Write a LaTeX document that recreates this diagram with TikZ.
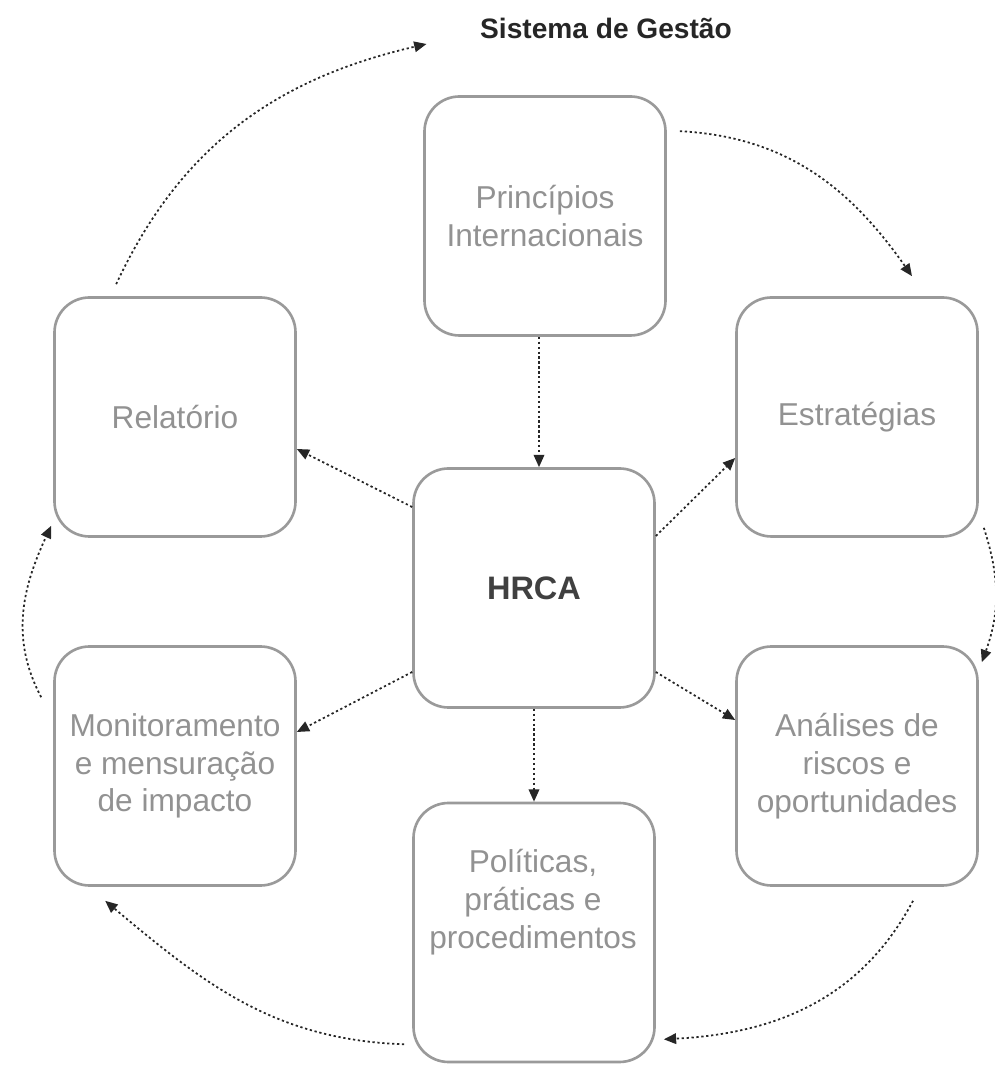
\documentclass[tikz,border=0pt]{standalone}
\usepackage{fontspec}
\setmainfont{Liberation Sans}
\usepackage{xcolor}
\usetikzlibrary{calc,arrows.meta}
\definecolor{boxgray}{HTML}{9A9A9A}
\definecolor{txtgray}{HTML}{929292}

\begin{document}
\begin{tikzpicture}[
  boxtext/.style={text=txtgray, align=center, font=\fontsize{18}{21.5}\selectfont},
  box/.style={boxtext, draw=boxgray, line width=1.5pt, rounded corners=0.7cm, minimum width=4.82cm, minimum height=4.78cm},
  flow/.style={black!85, line width=1pt, dash pattern=on 1.3pt off 1.5pt, -{Triangle[length=7pt,width=6pt]}}
]
  \useasboundingbox (0,0) rectangle (19.88,21.3);
  \node[font=\bfseries\fontsize{16}{19}\selectfont, text=black!85] (title) at (12.12,20.74) {Sistema de Gestão};
  \node[box] (pri) at (10.9,16.98) {Princípios\\Internacionais};
  \node[box] (rel) at (3.5,12.96) {Relatório};
  \node[box] (est) at (17.14,12.96) {Estratégias};
  \node[box, text=black!75, font=\bfseries\fontsize{18.5}{22}\selectfont] (hrca) at (10.68,9.54) {HRCA};
  \node[box] (mon) at (3.5,5.98) {Monitoramento\\e mensuração\\de impacto};
  \node[box] (ana) at (17.14,5.98) {Análises de\\riscos e\\oportunidades};
  \node[box, minimum height=5.18cm] (pol) at (10.68,2.65) {};
  \node[boxtext] (poltxt) at (10.66,3.26) {Políticas,\\práticas e\\procedimentos};
  \draw[flow] ($(pri.south)+(-0.12,0)$) -- ($(hrca.north)+(0.1,0)$);
  \draw[flow] ($(hrca.west)+(0,1.62)$) -- ($(rel.east)+(0,-0.64)$);
  \draw[flow] ($(hrca.east)+(0,1.04)$) -- ($(est.west)+(0,-0.82)$);
  \draw[flow] ($(hrca.west)+(0,-1.68)$) -- ($(mon.east)+(0,0.68)$);
  \draw[flow] ($(hrca.east)+(0,-1.68)$) -- ($(ana.west)+(0,0.92)$);
  \draw[flow] (hrca.south) -- (pol.north);
  \draw[flow] ($(pri.north east)+(0.26,-0.72)$) to[out=-3,in=125] ($(est.north)+(1.1,0.4)$);
  \draw[flow] ($(est.south east)+(0.1,0.2)$) to[out=-72,in=70] ($(ana.north east)+(0.06,-0.34)$);
  \draw[flow] ($(ana.south)+(1.12,-0.28)$) to[out=-118,in=3] ($(pol.south east)+(0.16,0.48)$);
  \draw[flow] ($(pol.south west)+(-0.16,0.38)$) to[out=178,in=-40] ($(mon.south west)+(1.04,-0.28)$);
  \draw[flow] ($(mon.north west)+(-0.24,-1.04)$) to[out=118,in=-115] ($(rel.south west)+(-0.04,0.24)$);
  \draw[flow] ($(rel.north west)+(1.26,0.24)$) to[out=65,in=193] ($(title.west)+(-0.95,-0.32)$);
\end{tikzpicture}
\end{document}
